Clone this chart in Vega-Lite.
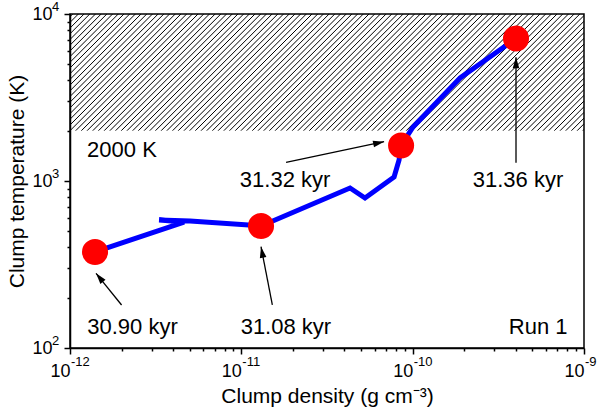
{
  "$schema": "https://vega.github.io/schema/vega-lite/v6.json",
  "width": 514,
  "height": 334,
  "autosize": "none",
  "padding": {"left": 70, "top": 14, "right": 16, "bottom": 68},
  "background": "white",
  "config": {
    "font": "Liberation Sans",
    "view": {"stroke": "black", "strokeWidth": 1.5}
  },
  "datasets": {
    "hatch": [
      {"k":-21,"k2":0},{"k":-20,"k2":1},{"k":-19,"k2":2},{"k":-18,"k2":3},{"k":-17,"k2":4},{"k":-16,"k2":5},{"k":-15,"k2":6},{"k":-14,"k2":7},{"k":-13,"k2":8},{"k":-12,"k2":9},{"k":-11,"k2":10},{"k":-10,"k2":11},{"k":-9,"k2":12},{"k":-8,"k2":13},{"k":-7,"k2":14},{"k":-6,"k2":15},{"k":-5,"k2":16},{"k":-4,"k2":17},{"k":-3,"k2":18},{"k":-2,"k2":19},{"k":-1,"k2":20},
      {"k":0,"k2":21},{"k":1,"k2":22},{"k":2,"k2":23},{"k":3,"k2":24},{"k":4,"k2":25},{"k":5,"k2":26},{"k":6,"k2":27},{"k":7,"k2":28},{"k":8,"k2":29},{"k":9,"k2":30},
      {"k":10,"k2":31},{"k":11,"k2":32},{"k":12,"k2":33},{"k":13,"k2":34},{"k":14,"k2":35},{"k":15,"k2":36},{"k":16,"k2":37},{"k":17,"k2":38},{"k":18,"k2":39},{"k":19,"k2":40},
      {"k":20,"k2":41},{"k":21,"k2":42},{"k":22,"k2":43},{"k":23,"k2":44},{"k":24,"k2":45},{"k":25,"k2":46},{"k":26,"k2":47},{"k":27,"k2":48},{"k":28,"k2":49},{"k":29,"k2":50},
      {"k":30,"k2":51},{"k":31,"k2":52},{"k":32,"k2":53},{"k":33,"k2":54},{"k":34,"k2":55},{"k":35,"k2":56},{"k":36,"k2":57},{"k":37,"k2":58},{"k":38,"k2":59},{"k":39,"k2":60},
      {"k":40,"k2":61},{"k":41,"k2":62},{"k":42,"k2":63},{"k":43,"k2":64},{"k":44,"k2":65},{"k":45,"k2":66},{"k":46,"k2":67},{"k":47,"k2":68},{"k":48,"k2":69},{"k":49,"k2":70},
      {"k":50,"k2":71},{"k":51,"k2":72},{"k":52,"k2":73},{"k":53,"k2":74},{"k":54,"k2":75},{"k":55,"k2":76},{"k":56,"k2":77},{"k":57,"k2":78},{"k":58,"k2":79},{"k":59,"k2":80},
      {"k":60,"k2":81},{"k":61,"k2":82},{"k":62,"k2":83},{"k":63,"k2":84},{"k":64,"k2":85},{"k":65,"k2":86},{"k":66,"k2":87},{"k":67,"k2":88},{"k":68,"k2":89},{"k":69,"k2":90},
      {"k":70,"k2":91},{"k":71,"k2":92},{"k":72,"k2":93},{"k":73,"k2":94},{"k":74,"k2":95},{"k":75,"k2":96},{"k":76,"k2":97},{"k":77,"k2":98},{"k":78,"k2":99},{"k":79,"k2":100},
      {"k":80,"k2":101},{"k":81,"k2":102},{"k":82,"k2":103},{"k":83,"k2":104},{"k":84,"k2":105},{"k":85,"k2":106},{"k":86,"k2":107},{"k":87,"k2":108},{"k":88,"k2":109},{"k":89,"k2":110},{"k":90,"k2":111}
    ],
    "path": [
      {"i":1,"x":1.40e-12,"y":376},
      {"i":2,"x":4.63e-12,"y":568},
      {"i":3,"x":3.31e-12,"y":584},
      {"i":4,"x":5.02e-12,"y":576},
      {"i":5,"x":1.303e-11,"y":538},
      {"i":6,"x":4.31e-11,"y":908},
      {"i":7,"x":5.27e-11,"y":791},
      {"i":8,"x":7.79e-11,"y":1057},
      {"i":9,"x":8.33e-11,"y":1336},
      {"i":10,"x":8.56e-11,"y":1632},
      {"i":11,"x":1.005e-10,"y":2106},
      {"i":12,"x":1.891e-10,"y":4139},
      {"i":13,"x":4.01e-10,"y":7133}
    ],
    "pts": [
      {"x":1.40e-12,"y":376,"t":"30.90 kyr"},
      {"x":1.303e-11,"y":538,"t":"31.08 kyr"},
      {"x":8.56e-11,"y":1632,"t":"31.32 kyr"},
      {"x":4.01e-10,"y":7133,"t":"31.36 kyr"}
    ],
    "arrows": [
      {"x":2.00e-12,"y":181,"x2":1.419e-12,"y2":280,"ang":321},
      {"x":1.517e-11,"y":181,"x2":1.303e-11,"y2":404,"ang":349},
      {"x":1.824e-11,"y":1294,"x2":6.81e-11,"y2":1719,"ang":78},
      {"x":4.01e-10,"y":1287,"x2":4.01e-10,"y2":5504,"ang":0}
    ],
    "labels": [
      {"x":2.01e-12,"y":1392,"t":"2000 K"},
      {"x":2.317e-12,"y":121,"t":"30.90 kyr"},
      {"x":1.82e-11,"y":121,"t":"31.08 kyr"},
      {"x":1.80e-11,"y":920,"t":"31.32 kyr"},
      {"x":4.12e-10,"y":920,"t":"31.36 kyr"},
      {"x":5.40e-10,"y":121,"t":"Run 1"}
    ],
    "xexp": [
      {"v":1e-12,"e":"-12"},{"v":1e-11,"e":"-11"},{"v":1e-10,"e":"-10"},{"v":1e-9,"e":"-9"}
    ],
    "yexp": [
      {"v":100,"e":"2"},{"v":1000,"e":"3"},{"v":10000,"e":"4"}
    ]
  },
  "layer": [
    {
      "data": {"name": "hatch"},
      "mark": {"type": "rule", "clip": true, "color": "black", "strokeWidth": 1},
      "encoding": {
        "x": {"field": "k", "type": "quantitative", "scale": {"domain": [0, 90.2], "nice": false, "zero": false}, "axis": null},
        "x2": {"field": "k2"},
        "y": {"datum": 0, "type": "quantitative", "scale": {"domain": [-38.13, 20.47], "nice": false, "zero": false}, "axis": null},
        "y2": {"datum": 21}
      }
    },
    {
      "layer": [
        {
          "data": {"name": "path"},
          "mark": {"type": "line", "color": "#0000ff", "strokeWidth": 5, "strokeJoin": "miter"},
          "encoding": {
            "x": {
              "field": "x", "type": "quantitative",
              "scale": {"type": "log", "domain": [1e-12, 1e-9], "nice": false},
              "axis": {
                "orient": "bottom",
                "values": [1e-12,2e-12,3e-12,4e-12,5e-12,6e-12,7e-12,8e-12,9e-12,1e-11,2e-11,3e-11,4e-11,5e-11,6e-11,7e-11,8e-11,9e-11,1e-10,2e-10,3e-10,4e-10,5e-10,6e-10,7e-10,8e-10,9e-10,1e-9],
                "labelExpr": "abs(log(datum.value)/LN10 - round(log(datum.value)/LN10)) < 0.01 ? '10' : ''",
                "labelAlign": "right",
                "labelOverlap": false, "labelFlush": false, "labelBound": false,
                "labelFontSize": 18, "labelColor": "black", "labelPadding": 8,
                "tickColor": "black", "tickWidth": 1.5,
                "tickSize": {"condition": {"test": "abs(log(datum.value)/LN10 - round(log(datum.value)/LN10)) < 0.01", "value": 6}, "value": 3},
                "domainColor": "black", "domainWidth": 1.5, "grid": false,
                "title": "Clump density (g cm⁻³)", "titleFontSize": 21, "titleFontWeight": "normal", "titleColor": "black", "titlePadding": 5
              }
            },
            "y": {
              "field": "y", "type": "quantitative",
              "scale": {"type": "log", "domain": [100, 10000], "nice": false},
              "axis": {
                "orient": "left",
                "values": [100,200,300,400,500,600,700,800,900,1000,2000,3000,4000,5000,6000,7000,8000,9000,10000],
                "labelExpr": "abs(log(datum.value)/LN10 - round(log(datum.value)/LN10)) < 0.01 ? '10' : ''",
                "labelOverlap": false, "labelFlush": false, "labelBound": false,
                "labelFontSize": 18, "labelColor": "black", "labelPadding": 12,
                "tickColor": "black", "tickWidth": 1.5,
                "tickSize": {"condition": {"test": "abs(log(datum.value)/LN10 - round(log(datum.value)/LN10)) < 0.01", "value": 6}, "value": 3},
                "domainColor": "black", "domainWidth": 1.5, "grid": false,
                "title": "Clump temperature (K)", "titleFontSize": 21, "titleFontWeight": "normal", "titleColor": "black", "titlePadding": 4
              }
            },
            "order": {"field": "i", "type": "quantitative"}
          }
        },
        {
          "mark": {"type": "rule", "color": "black", "strokeWidth": 1.5},
          "encoding": {"y": {"datum": 2000, "type": "quantitative"}}
        },
        {
          "data": {"name": "pts"},
          "mark": {"type": "point", "shape": "circle", "filled": true, "color": "#ff0000", "opacity": 1, "size": 680},
          "encoding": {
            "x": {"field": "x", "type": "quantitative"},
            "y": {"field": "y", "type": "quantitative"}
          }
        },
        {
          "data": {"name": "arrows"},
          "mark": {"type": "rule", "color": "black", "strokeWidth": 1.3},
          "encoding": {
            "x": {"field": "x", "type": "quantitative"},
            "y": {"field": "y", "type": "quantitative"},
            "x2": {"field": "x2"},
            "y2": {"field": "y2"}
          }
        },
        {
          "data": {"name": "arrows"},
          "mark": {"type": "point", "shape": "M0,0L0.3,1L-0.3,1Z", "filled": true, "color": "black", "opacity": 1, "size": 484},
          "encoding": {
            "x": {"field": "x2", "type": "quantitative"},
            "y": {"field": "y2", "type": "quantitative"},
            "angle": {"field": "ang", "type": "quantitative", "scale": null}
          }
        },
        {
          "data": {"name": "labels"},
          "mark": {"type": "text", "fontSize": 22, "color": "black", "baseline": "alphabetic", "align": "center"},
          "encoding": {
            "x": {"field": "x", "type": "quantitative"},
            "y": {"field": "y", "type": "quantitative"},
            "text": {"field": "t"}
          }
        },
        {
          "data": {"name": "xexp"},
          "mark": {"type": "text", "fontSize": 13, "color": "black", "baseline": "alphabetic", "align": "left", "dx": 1, "dy": 18},
          "encoding": {
            "x": {"field": "v", "type": "quantitative"},
            "y": {"datum": 100, "type": "quantitative"},
            "text": {"field": "e"}
          }
        },
        {
          "data": {"name": "yexp"},
          "mark": {"type": "text", "fontSize": 13, "color": "black", "baseline": "alphabetic", "align": "left", "dx": -18, "dy": -3},
          "encoding": {
            "x": {"datum": 1e-12, "type": "quantitative"},
            "y": {"field": "v", "type": "quantitative"},
            "text": {"field": "e"}
          }
        }
      ]
    }
  ],
  "resolve": {"scale": {"x": "independent", "y": "independent"}}
}
